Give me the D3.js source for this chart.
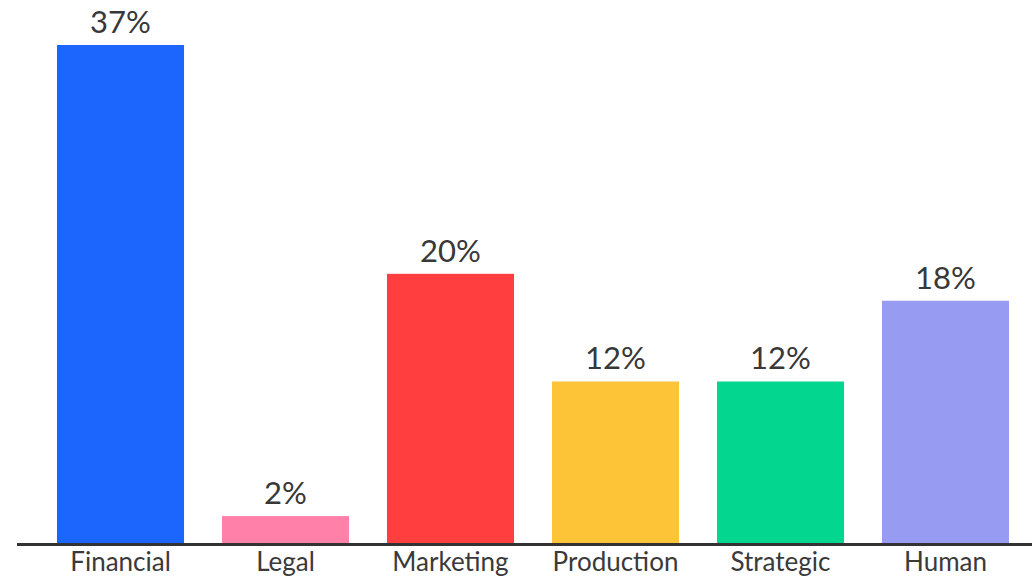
<!DOCTYPE html>
<html>
<head>
<meta charset="utf-8">
<script src="https://cdn.jsdelivr.net/npm/d3@7"></script>
<style>
  html, body { margin: 0; padding: 0; background: #ffffff; }
  svg { display: block; }
</style>
</head>
<body>
<svg id="chart" width="1032" height="576"></svg>
<script>
// Share of respondents by area
const categories = ["Financial", "Legal", "Marketing", "Production", "Strategic", "Human"];
const values = [37, 2, 20, 12, 12, 18];
const valueLabels = ["37%", "2%", "20%", "12%", "12%", "18%"];
const colors = ["#1d66fd", "#ff80a9", "#ff3f3f", "#fec437", "#03d68f", "#979cf2"];

const chartWidth = 1032, chartHeight = 576;
const baselineY = 543, topY = 45;
const svg = d3.select("#chart");

const x = d3.scaleBand()
  .domain(categories)
  .range([38, 1028])
  .paddingInner(0.23)
  .paddingOuter(0.115);

const y = d3.scaleLinear()
  .domain([0, d3.max(values)])
  .range([baselineY, topY]);

const rows = categories.map((c, i) => ({ c, v: values[i], label: valueLabels[i], color: colors[i] }));

// Bars
svg.append("g").selectAll("rect")
  .data(rows)
  .join("rect")
  .attr("x", d => x(d.c))
  .attr("y", d => y(d.v))
  .attr("width", x.bandwidth())
  .attr("height", d => y(0) - y(d.v))
  .attr("fill", d => d.color);

// Value labels above bars
svg.append("g").selectAll("text")
  .data(rows)
  .join("text")
  .attr("x", d => x(d.c) + x.bandwidth() / 2)
  .attr("y", d => y(d.v) - 12)
  .attr("text-anchor", "middle")
  .attr("font-family", "Lato, 'Liberation Sans', sans-serif")
  .attr("font-size", 31)
  .attr("fill", "#383838")
  .text(d => d.label);

// Category axis
const axis = svg.append("g")
  .attr("transform", `translate(0,${baselineY})`)
  .call(d3.axisBottom(x).tickSize(0).tickPadding(0));
axis.select(".domain").remove();
axis.selectAll("text")
  .attr("y", 28)
  .attr("dy", null)
  .attr("font-family", "Lato, 'Liberation Sans', sans-serif")
  .attr("font-size", 26)
  .attr("fill", "#3a3a3a");

svg.append("line")
  .attr("x1", 17).attr("x2", chartWidth)
  .attr("y1", baselineY + 1.5).attr("y2", baselineY + 1.5)
  .attr("stroke", "#333333")
  .attr("stroke-width", 3);
</script>
</body>
</html>
